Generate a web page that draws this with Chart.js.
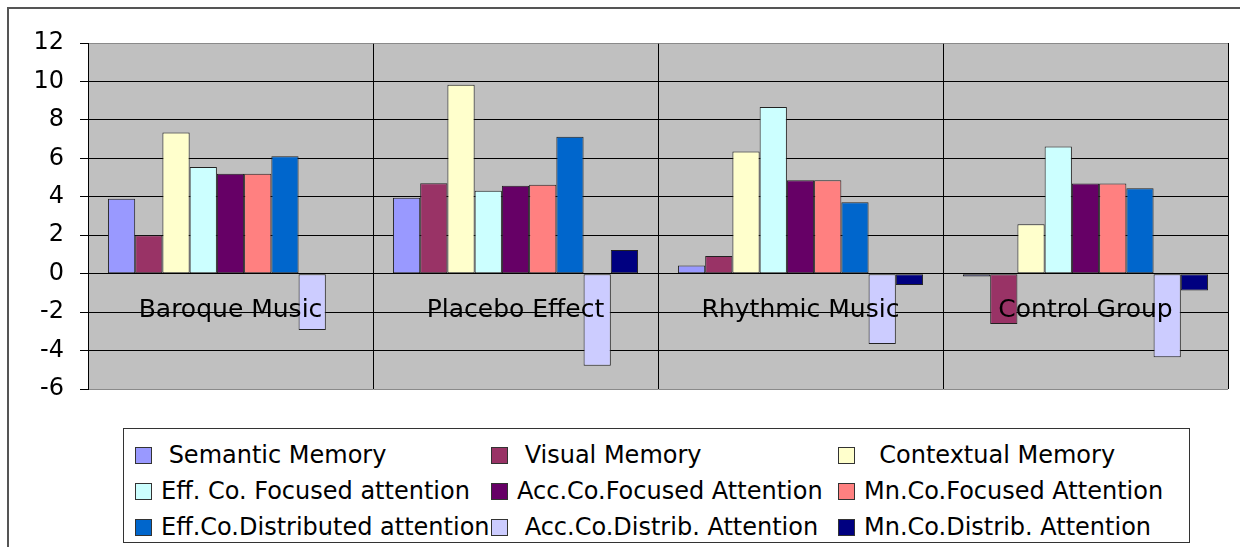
<!DOCTYPE html>
<html lang="en">
<head>
  <meta charset="UTF-8">
  <title>Memory and attention by group</title>
  <style>
    body { margin: 0; background: #fff; font-family: 'DejaVu Sans', sans-serif; overflow: hidden; }
    .frame { position: absolute; left: 7px; top: 7px; width: 1300px; height: 600px; border: 2px solid #555; }
    .chart-box { position: absolute; left: 0; top: 0; width: 1240px; height: 547px; }
    #legend { position: absolute; left: 123px; top: 428px; width: 1067px; height: 115px; border: 1px solid #333; background: #fff; box-sizing: border-box; }
    #legend ul { list-style: none; margin: 0; padding: 8px 0 0 11px; display: grid; grid-template-columns: 356px 347px auto; grid-auto-rows: 36px; }
    #legend li { display: flex; align-items: center; font-size: 24px; white-space: pre; color: #000; }
    #legend .sw { width: 15px; height: 15px; border: 1px solid #333; margin-right: 9px; flex: none; }
  </style>
  <script src="https://cdn.jsdelivr.net/npm/chart.js@4"></script>
</head>
<body>
<div class="frame"></div>
<div class="chart-box"><canvas id="groupChart"></canvas></div>
<div id="legend"></div>

<script>
const categories = ['Baroque Music', 'Placebo Effect', 'Rhythmic Music', 'Control Group'];
const seriesNames = [' Semantic Memory', ' Visual Memory', '  Contextual Memory',
  'Eff. Co. Focused attention', 'Acc.Co.Focused Attention', 'Mn.Co.Focused Attention',
  'Eff.Co.Distributed attention', ' Acc.Co.Distrib. Attention', 'Mn.Co.Distrib. Attention'];
const seriesColors = ['#9999FF', '#993366', '#FFFFCC', '#CCFFFF', '#660066', '#FF8080', '#0066CC', '#CCCCFF', '#000080'];

// one array per series, values in category order
const semanticMemory   = [3.9, 3.95, 0.42, -0.15];
const visualMemory     = [2.0, 4.7, 0.92, -2.62];
const contextualMemory = [7.35, 9.83, 6.35, 2.57];
const effFocused       = [5.55, 4.31, 8.67, 6.61];
const accFocused       = [5.2, 4.57, 4.86, 4.69];
const mnFocused        = [5.2, 4.62, 4.86, 4.69];
const effDistributed   = [6.11, 7.12, 3.72, 4.45];
const accDistrib       = [-2.93, -4.79, -3.66, -4.35];
const mnDistrib        = [0, 1.23, -0.59, -0.88];

const yTicks = { min: -6, max: 12, step: 2 };

const seriesValues = [semanticMemory, visualMemory, contextualMemory, effFocused, accFocused,
  mnFocused, effDistributed, accDistrib, mnDistrib];

// grey plot area
const plotBackground = {
  id: 'plotBackground',
  beforeDraw(chart) {
    const { ctx, chartArea: a } = chart;
    ctx.save();
    ctx.fillStyle = '#C0C0C0';
    ctx.fillRect(a.left, a.top, a.right - a.left, a.bottom - a.top);
    ctx.restore();
  }
};

// legend box in three columns
const htmlLegend = {
  id: 'htmlLegend',
  afterUpdate(chart) {
    const box = document.getElementById('legend');
    let html = '<ul>';
    chart.data.datasets.forEach(ds => {
      html += `<li><span class="sw" style="background:${ds.backgroundColor}"></span>${ds.label}</li>`;
    });
    html += '</ul>';
    box.innerHTML = html;
  }
};

const ctx = document.getElementById('groupChart').getContext('2d');
new Chart(ctx, {
  type: 'bar',
  data: {
    labels: categories,
    datasets: seriesNames.map((name, i) => ({
      label: name,
      data: seriesValues[i],
      backgroundColor: seriesColors[i],
      borderColor: '#222',
      borderWidth: 1,
      borderSkipped: false,
      categoryPercentage: 0.86,
      barPercentage: 1
    }))
  },
  options: {
    responsive: true,
    maintainAspectRatio: false,
    animation: false,
    layout: { padding: { left: 0, top: 43, right: 12, bottom: 158 } },
    plugins: {
      legend: { display: false },
      tooltip: { enabled: false }
    },
    scales: {
      x: {
        position: { y: 0 },
        grid: {
          offset: true,
          drawTicks: false,
          color: c => c.index === categories.length ? '#8a8a8a' : '#000',
          lineWidth: 1
        },
        border: { display: false },
        ticks: {
          z: 1,
          padding: 22,
          color: '#000',
          font: { family: 'DejaVu Sans', size: 25 }
        }
      },
      y: {
        min: yTicks.min,
        max: yTicks.max,
        afterFit: scale => { scale.width = 88; },
        grid: {
          color: c => (c.tick.value === yTicks.min || c.tick.value === yTicks.max) ? '#8a8a8a' : '#000',
          tickColor: '#000',
          tickLength: 8,
          lineWidth: 1
        },
        border: { color: '#000', width: 1 },
        ticks: {
          stepSize: yTicks.step,
          padding: 16,
          color: '#000',
          font: { family: 'DejaVu Sans', size: 24 }
        }
      }
    }
  },
  plugins: [plotBackground, htmlLegend]
});
</script>
</body>
</html>
